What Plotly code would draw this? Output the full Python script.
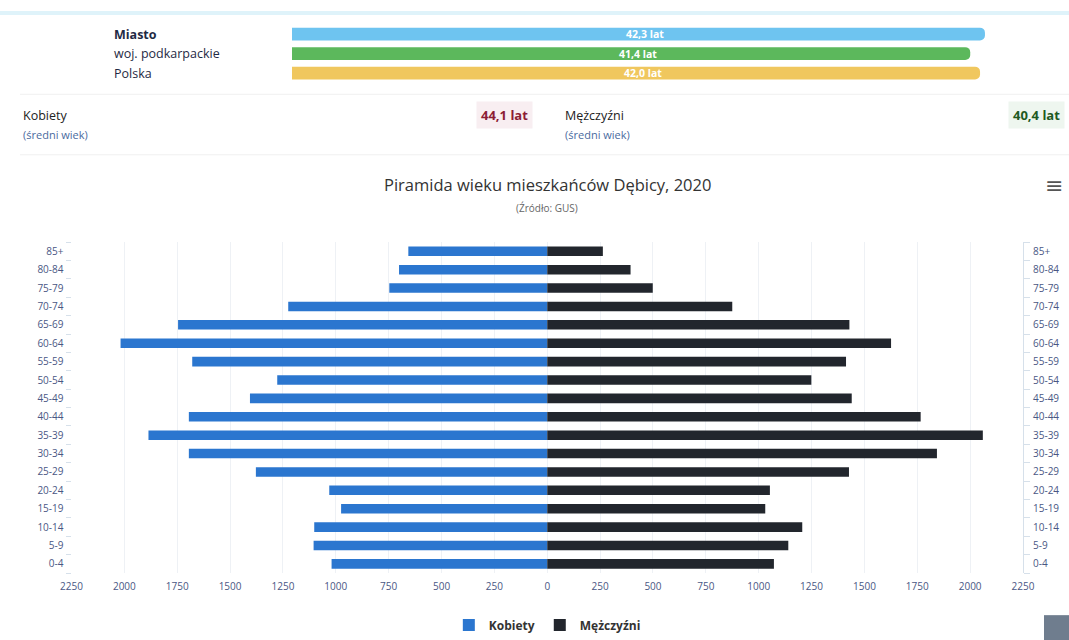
import plotly.graph_objects as go

# ---------------- data ----------------
age_groups = ["0-4", "5-9", "10-14", "15-19", "20-24", "25-29", "30-34", "35-39",
              "40-44", "45-49", "50-54", "55-59", "60-64", "65-69", "70-74",
              "75-79", "80-84", "85+"]
kobiety = [1020, 1105, 1102, 975, 1031, 1378, 1695, 1886, 1695, 1406,
           1277, 1679, 2018, 1746, 1225, 747, 701, 657]
mezczyzni = [1072, 1140, 1206, 1031, 1053, 1427, 1843, 2060, 1766, 1440,
             1249, 1413, 1626, 1429, 875, 499, 394, 263]
x_tick_values = [-2250, -2000, -1750, -1500, -1250, -1000, -750, -500, -250, 0,
                 250, 500, 750, 1000, 1250, 1500, 1750, 2000, 2250]

regions = ["Miasto", "woj. podkarpackie", "Polska"]
median_age = [42.3, 41.4, 42.0]
region_colors = ["#6ec4f0", "#5cb85c", "#f0c75e"]

avg_age_women = 44.1
avg_age_men = 40.4

title_text = "Piramida wieku mieszkańców Dębicy, 2020"
subtitle_text = "(Źródło: GUS)"

FONT = "Open Sans"
W, H = 1069, 640


def px_x(p):
    return p / W


def px_y(p):
    return 1 - p / H


def fmt(v):
    return f"{v:.1f}".replace(".", ",") + " lat"


fig = go.Figure()

# ---------------- pyramid ----------------
fig.add_trace(go.Bar(
    y=age_groups, x=[-v for v in kobiety], customdata=kobiety,
    orientation="h", name="Kobiety", width=0.52,
    marker=dict(color="#2b76cf", line=dict(width=0)),
    hovertemplate="%{y}: %{customdata}<extra>Kobiety</extra>",
    xaxis="x", yaxis="y",
))
fig.add_trace(go.Bar(
    y=age_groups, x=mezczyzni,
    orientation="h", name="Mężczyźni", width=0.52,
    marker=dict(color="#22262d", line=dict(width=0)),
    hovertemplate="%{y}: %{x}<extra>Mężczyźni</extra>",
    xaxis="x", yaxis="y2",
))

# ---------------- top summary bars ----------------
fig.add_trace(go.Bar(
    y=regions, x=median_age, orientation="h", width=0.66,
    marker=dict(color=region_colors, cornerradius=5, line=dict(width=0)),
    showlegend=False, hoverinfo="skip",
    xaxis="x2", yaxis="y3",
))

plot_top, plot_bottom = 244.0, 577.6
plot_left, plot_right = 71.5, 1023

axis_font = dict(family=FONT, size=10, color="#4a5784")

fig.update_layout(
    width=W, height=H,
    margin=dict(l=0, r=0, t=0, b=0, pad=0),
    paper_bgcolor="white", plot_bgcolor="white",
    font=dict(family=FONT, color="#333333"),
    barmode="overlay",
    showlegend=True,
    legend=dict(orientation="h", x=0.512, xanchor="center", y=px_y(630), yanchor="middle",
                font=dict(family=FONT, size=12, color="#333333", weight="bold"),
                traceorder="normal", bgcolor="rgba(0,0,0,0)", itemwidth=30,
                tracegroupgap=0),
    xaxis=dict(domain=[px_x(plot_left), px_x(plot_right)], range=[-2250, 2250],
               tickmode="array", tickvals=x_tick_values,
               ticktext=[str(abs(v)) for v in x_tick_values],
               tickfont=axis_font, showgrid=True, gridcolor="#eef1f5", gridwidth=1,
               zeroline=False, showline=False, ticks="", ticklabelstandoff=6,
               anchor="y", fixedrange=True, automargin=False),
    yaxis=dict(domain=[px_y(plot_bottom), px_y(plot_top)], range=[-0.5, 17.5],
               categoryorder="array", categoryarray=age_groups,
               tickfont=axis_font, showgrid=False, zeroline=False,
               showline=False, ticks="outside", tickson="boundaries",
               ticklen=5, tickcolor="#d6e0ea", anchor="x", side="left",
               ticklabelstandoff=7, fixedrange=True, automargin=False),
    yaxis2=dict(domain=[px_y(plot_bottom), px_y(plot_top)], range=[-0.5, 17.5],
                categoryorder="array", categoryarray=age_groups,
                tickfont=axis_font, showgrid=False, zeroline=False,
                showline=True, linecolor="#d6e0ea", ticks="outside",
                tickson="boundaries", ticklen=6, tickcolor="#d6e0ea",
                overlaying="y", side="right", anchor="x", ticklabelstandoff=7,
                fixedrange=True, automargin=False),
    xaxis2=dict(domain=[px_x(292), 1.0], range=[0, 47.43], visible=False,
                anchor="y3", fixedrange=True, automargin=False),
    yaxis3=dict(domain=[px_y(83.5), px_y(24.5)], range=[2.5, -0.5],
                categoryorder="array", categoryarray=regions, visible=False,
                anchor="x2", fixedrange=True, automargin=False),
)

annotations = []
# region labels and value labels on the summary bars
for i, (r, v) in enumerate(zip(regions, median_age)):
    annotations.append(dict(
        x=px_x(112), xref="paper", y=r, yref="y3", xanchor="left", yanchor="middle",
        text=f"<b>{r}</b>" if i == 0 else r, showarrow=False,
        font=dict(family=FONT, size=12.5, color="#1f2a44")))
    annotations.append(dict(
        x=v / 2 + 0.4, xref="x2", y=r, yref="y3", xanchor="center", yanchor="middle",
        text=f"<b>{fmt(v)}</b>", showarrow=False,
        font=dict(family=FONT, size=10.5, color="white")))

# average ages
annotations += [
    dict(x=px_x(21), y=px_y(116), xref="paper", yref="paper", xanchor="left",
         yanchor="middle", text="Kobiety", showarrow=False,
         font=dict(family=FONT, size=12.5, color="#222222")),
    dict(x=px_x(21), y=px_y(136), xref="paper", yref="paper", xanchor="left",
         yanchor="middle", text="(średni wiek)", showarrow=False,
         font=dict(family=FONT, size=11, color="#4a6aa0")),
    dict(x=px_x(533), y=px_y(116), xref="paper", yref="paper", xanchor="right",
         yanchor="middle", text=f"<b>{fmt(avg_age_women)}</b>", showarrow=False,
         bgcolor="#f8eef1", borderpad=4,
         font=dict(family=FONT, size=13, color="#8c1d35")),
    dict(x=px_x(563), y=px_y(116), xref="paper", yref="paper", xanchor="left",
         yanchor="middle", text="Mężczyźni", showarrow=False,
         font=dict(family=FONT, size=12.5, color="#222222")),
    dict(x=px_x(563), y=px_y(136), xref="paper", yref="paper", xanchor="left",
         yanchor="middle", text="(średni wiek)", showarrow=False,
         font=dict(family=FONT, size=11, color="#4a6aa0")),
    dict(x=px_x(1065), y=px_y(116), xref="paper", yref="paper", xanchor="right",
         yanchor="middle", text=f"<b>{fmt(avg_age_men)}</b>", showarrow=False,
         bgcolor="#eef6ef", borderpad=4,
         font=dict(family=FONT, size=13, color="#1f5a22")),
    # title and subtitle
    dict(x=px_x(547), y=px_y(186), xref="paper", yref="paper", xanchor="center",
         yanchor="middle", text=title_text, showarrow=False,
         font=dict(family=FONT, size=16.5, color="#333333")),
    dict(x=px_x(547), y=px_y(210), xref="paper", yref="paper", xanchor="center",
         yanchor="middle", text=subtitle_text, showarrow=False,
         font=dict(family=FONT, size=10, color="#666666")),
    # menu icon
    dict(x=px_x(1054), y=px_y(187), xref="paper", yref="paper", xanchor="center",
         yanchor="middle", text="≡", showarrow=False,
         font=dict(family="DejaVu Sans", size=22, color="#555555")),
]
fig.update_layout(annotations=annotations)

shapes = [
    dict(type="line", xref="paper", yref="paper", x0=0, x1=1, y0=px_y(13), y1=px_y(13),
         line=dict(color="#dff3fa", width=4)),
    dict(type="line", xref="paper", yref="paper", x0=px_x(20), x1=1, y0=px_y(95), y1=px_y(95),
         line=dict(color="#f0f0f0", width=1)),
    dict(type="line", xref="paper", yref="paper", x0=px_x(20), x1=1, y0=px_y(156), y1=px_y(156),
         line=dict(color="#f0f0f0", width=1)),
    dict(type="rect", xref="paper", yref="paper", x0=px_x(1044), x1=px_x(1075),
         y0=px_y(648), y1=px_y(620), fillcolor="#6f7d8e", line=dict(width=0)),
]
fig.update_layout(shapes=shapes)

fig.write_html("out.html", config={"displayModeBar": False},
               post_script="document.body.style.margin='0';document.body.style.overflow='hidden';")
